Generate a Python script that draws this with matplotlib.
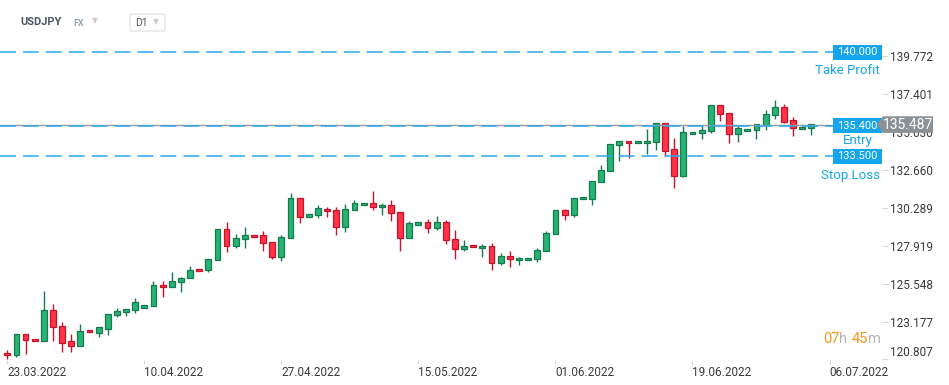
#Importing numpy and matplotlib
import numpy as np
import matplotlib
matplotlib.use('Agg')
import matplotlib.pyplot as plt
from matplotlib.patches import Rectangle, FancyBboxPatch, Polygon
from matplotlib.transforms import blended_transform_factory, IdentityTransform

plt.rcParams['font.family'] = ['Roboto', 'DejaVu Sans']
plt.rcParams['lines.scale_dashes'] = False

#USDJPY daily candles (23.03.2022 - 04.07.2022)
opens = [121.21, 121.07, 122.38, 122.07, 121.94, 123.88, 122.88, 121.94, 121.63, 122.63,
         122.44, 122.69, 123.57, 123.75, 123.88, 124.00, 124.13, 125.44, 125.32, 125.63,
         125.88, 126.44, 126.38, 127.00, 128.94, 127.88, 128.32, 128.57, 128.57, 128.13,
         127.19, 128.38, 130.88, 129.69, 129.82, 130.19, 130.15, 129.07, 130.13, 130.44,
         130.57, 130.32, 130.44, 130.00, 128.38, 129.19, 129.38, 129.00, 129.38, 128.32,
         127.69, 127.94, 127.75, 127.88, 126.82, 127.25, 127.00, 127.00, 127.07, 127.57,
         128.63, 130.13, 129.82, 130.82, 130.82, 131.88, 132.57, 134.19, 134.44, 134.32,
         134.32, 134.38, 135.57, 133.94, 132.25, 134.88, 134.94, 135.07, 136.69, 136.19,
         134.88, 135.07, 135.13, 135.44, 136.07, 136.57, 135.75, 135.19, 135.25]
highs = [121.40, 122.38, 122.38, 122.07, 125.10, 124.27, 123.13, 122.38, 123.00, 122.63,
         122.82, 123.63, 124.00, 123.94, 124.63, 124.19, 125.71, 125.69, 126.25, 125.94,
         126.63, 126.44, 127.07, 128.94, 129.38, 128.63, 129.07, 128.57, 128.82, 128.13,
         128.57, 131.19, 130.88, 129.88, 130.44, 130.32, 130.32, 130.52, 130.77, 130.57,
         131.33, 130.58, 130.77, 130.00, 129.44, 129.38, 129.57, 129.75, 129.50, 128.88,
         128.25, 127.94, 128.00, 128.07, 127.44, 127.57, 127.19, 127.13, 127.75, 128.82,
         130.13, 130.19, 130.88, 130.94, 131.94, 132.94, 134.25, 134.44, 134.44, 134.44,
         135.19, 135.57, 135.57, 134.63, 135.38, 135.00, 135.38, 136.69, 136.69, 136.19,
         135.38, 135.19, 135.50, 136.38, 137.00, 136.75, 135.94, 135.32, 135.50]
lows = [120.82, 120.94, 121.17, 121.94, 121.94, 121.98, 121.29, 121.29, 121.63, 122.50,
        122.23, 122.35, 123.44, 123.50, 123.69, 124.00, 124.13, 124.74, 125.32, 125.04,
        125.88, 126.32, 126.25, 127.00, 127.50, 127.79, 127.75, 128.44, 127.57, 127.07,
        126.94, 128.38, 129.32, 129.69, 129.63, 129.69, 128.60, 128.75, 130.13, 130.44,
        130.13, 129.82, 129.44, 127.57, 128.38, 129.19, 128.69, 128.88, 128.00, 127.07,
        127.57, 127.82, 127.19, 126.37, 126.69, 126.57, 126.69, 127.00, 126.88, 127.57,
        128.63, 129.50, 129.69, 130.82, 130.44, 131.88, 132.57, 133.19, 133.38, 134.32,
        133.63, 133.88, 133.50, 131.50, 132.19, 134.88, 134.57, 134.94, 135.69, 134.32,
        134.38, 135.07, 134.57, 135.13, 135.82, 135.57, 134.75, 135.19, 134.82]
closes = [121.07, 122.38, 122.00, 121.94, 123.88, 122.82, 121.82, 121.63, 122.57, 122.50,
          122.82, 123.63, 123.82, 123.94, 124.38, 124.19, 125.44, 125.32, 125.69, 125.88,
          126.38, 126.32, 127.07, 128.94, 127.88, 128.38, 128.57, 128.44, 128.07, 127.19,
          128.44, 130.88, 129.69, 129.88, 130.25, 130.07, 129.07, 130.19, 130.57, 130.57,
          130.32, 130.44, 129.94, 128.38, 129.32, 129.38, 129.00, 129.38, 128.25, 127.69,
          127.88, 127.82, 127.88, 126.82, 127.25, 127.07, 127.13, 127.13, 127.63, 128.69,
          130.13, 129.82, 130.88, 130.94, 131.94, 132.63, 134.25, 134.44, 134.32, 134.44,
          134.44, 135.57, 133.82, 132.25, 135.00, 135.00, 135.13, 136.69, 136.13, 134.88,
          135.25, 135.19, 135.50, 136.13, 136.57, 135.63, 135.25, 135.32, 135.50]

date_ticks = [0, 15, 30, 45, 60, 75, 90]
date_labels = ['23.03.2022', '10.04.2022', '27.04.2022', '15.05.2022',
               '01.06.2022', '19.06.2022', '06.07.2022']
price_labels = ['120.807', '123.177', '125.548', '127.919', '130.289',
                '132.660', '135.030', '137.401', '139.772']

take_profit = 140.000
entry = 135.400
stop_loss = 133.500
last_price = 135.487

#Figure / axes
W, H = 949, 385
fig = plt.figure(figsize=(W / 100, H / 100), dpi=100)
fig.patch.set_facecolor('white')
ax_top, ax_bot, ax_right = 38, 360, 882
ax = fig.add_axes([0, 1 - ax_bot / H, ax_right / W, (ax_bot - ax_top) / H])
for s in ax.spines.values():
    s.set_visible(False)

step = 9.136
x0 = 7.3
ax.set_xlim(-x0 / step, (ax_right - x0) / step)
ymin, ymax = 120.772, 140.897
ax.set_ylim(ymin, ymax)
ppx = (ymax - ymin) / (ax_bot - ax_top)

#Candles
x = np.arange(len(opens))
o = np.array(opens); c = np.array(closes)
up = c >= o
fill = np.where(up, '#26b373', '#ff3347')
edge = np.where(up, '#177a4e', '#c4142c')
ax.vlines(x, lows, highs, colors=edge, linewidth=1.0, zorder=2)
ax.bar(x, np.abs(c - o), bottom=np.minimum(o, c), width=0.64, color=fill,
       edgecolor=edge, linewidth=0.9, zorder=3)

#Ticks
ax.yaxis.tick_right()
ax.set_yticks([float(p) for p in price_labels])
ax.set_yticklabels(price_labels)
ax.tick_params(axis='y', length=4, width=0.8, color='#d6d6d6', pad=1.5,
               labelsize=8.5, labelcolor='#3a3a3a')
ax.yaxis.get_ticklabels()[0].set_va('bottom')
ax.set_xticks(date_ticks)
ax.set_xticklabels(date_labels, ha='left')
ax.tick_params(axis='x', length=3, width=0.8, color='#d6d6d6', pad=1.5,
               labelsize=8.5, labelcolor='#3a3a3a')

#Level lines
T = blended_transform_factory(IdentityTransform(), ax.transData)
blue = '#14a5ec'
ax.axhline(last_price, color='#9a9a9a', linewidth=1.0, zorder=4)
for lvl in [take_profit, entry, stop_loss]:
    ln, = ax.plot([0, 833], [lvl, lvl], transform=T, color='#2aa9e8',
                  linewidth=1.1, zorder=4)
    ln.set_dashes([11.5, 5])

#Level tags
for lvl, name, dy in [(take_profit, 'Take Profit', 18), (entry, 'Entry', 15),
                      (stop_loss, 'Stop Loss', 19)]:
    ax.add_patch(Rectangle((833, lvl - 7.5 * ppx), 49, 15 * ppx, transform=T,
                           facecolor=blue, edgecolor='none', zorder=6, clip_on=False))
    ax.text(857.5, lvl, '%.3f' % lvl, transform=T, ha='center', va='center',
            color='white', fontsize=8, zorder=7, clip_on=False)
    ax.text(880 if name != 'Entry' else 873, lvl - dy * ppx, name, transform=T,
            ha='right', va='center', color=blue, fontsize=9.5, zorder=7, clip_on=False)

#Last price tag
hh = 8.3 * ppx
ax.add_patch(Polygon([(877, last_price), (883, last_price + hh), (933, last_price + hh),
                      (933, last_price - hh), (883, last_price - hh)], closed=True,
                     transform=T, facecolor='#8c9196', edgecolor='none', zorder=8,
                     clip_on=False))
ax.text(908, last_price, '%.3f' % last_price, transform=T, ha='center', va='center',
        color='white', fontsize=10, zorder=9, clip_on=False)

#Countdown
I = IdentityTransform()
t1 = fig.text(823, H - 346, '07', transform=I, color='#f7931e', fontsize=10.5, va='bottom')
t2 = ax.annotate('h', xy=(1, 0), xycoords=t1, va='bottom', color='#b4b4b4', fontsize=10.5)
t3 = ax.annotate('45', xy=(1, 0), xycoords=t2, xytext=(3, 0), textcoords='offset points',
                 va='bottom', color='#f7931e', fontsize=10.5)
ax.annotate('m', xy=(1, 0), xycoords=t3, va='bottom', color='#b4b4b4', fontsize=10.5)

#Header
fig.text(20, H - 22, 'USDJPY', transform=I, fontsize=8, fontweight='bold',
         color='#4a5663', va='center')
fig.text(73, H - 23, 'FX', transform=I, fontsize=6.5, fontweight='bold',
         color='#92a4b4', va='center')
fig.text(92, H - 21, '▼', transform=I, fontsize=5.5, color='#cccccc', va='center',
         family=['DejaVu Sans'])
fig.patches.append(FancyBboxPatch((130, H - 31), 35, 17, boxstyle='round,pad=0,rounding_size=2',
                                  transform=I, facecolor='white', edgecolor='#dedede',
                                  linewidth=0.8))
fig.text(135, H - 23, 'D1', transform=I, fontsize=7.5, color='#555555', va='center')
fig.text(153, H - 22, '▼', transform=I, fontsize=5.5, color='#cccccc', va='center',
         family=['DejaVu Sans'])

fig.savefig('out.png', dpi=100)
